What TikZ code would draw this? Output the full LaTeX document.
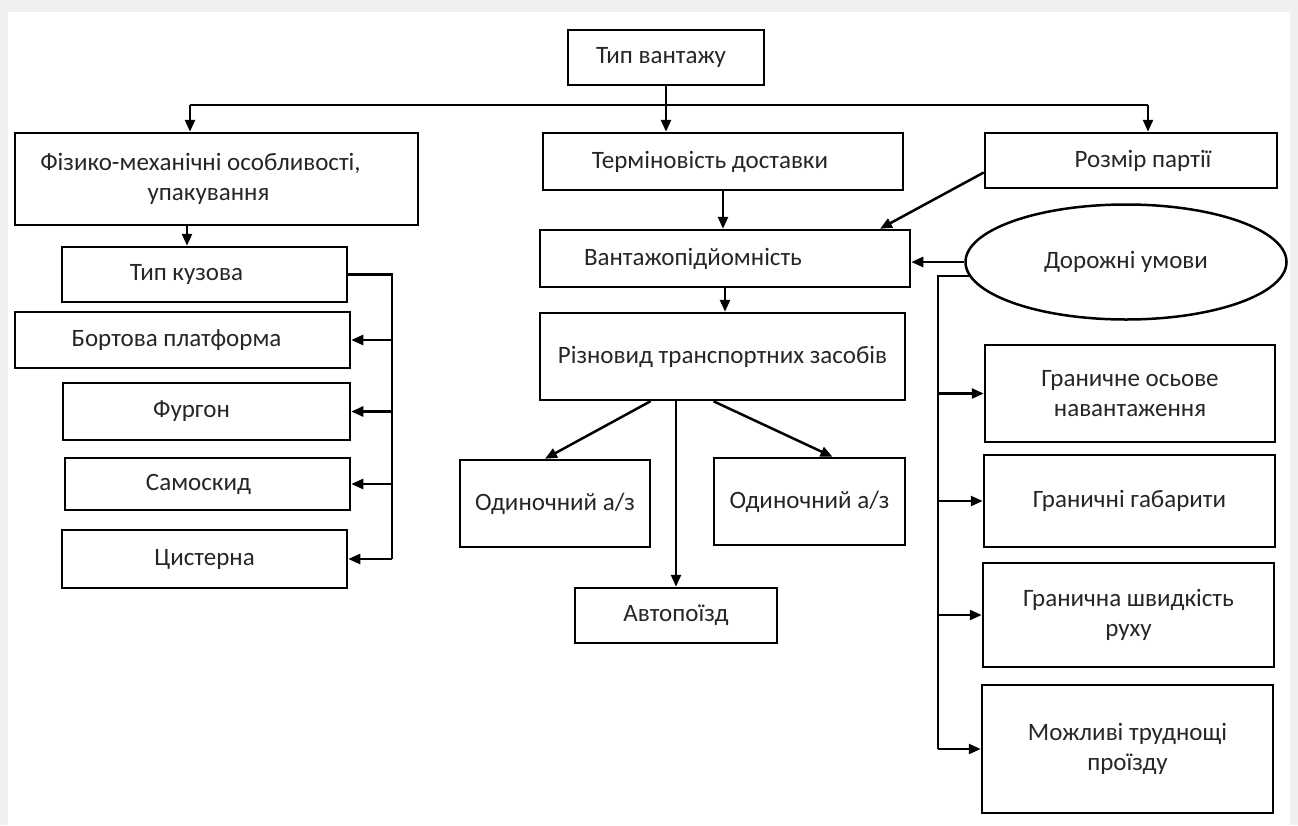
\documentclass[tikz,border=0pt]{standalone}
\usepackage{fontspec}
\setmainfont{Carlito}
\usetikzlibrary{arrows.meta,shapes.geometric,calc}
\begin{document}
\begin{tikzpicture}[x=1pt,y=-1pt,
  box/.style={draw, line width=2.5pt, inner sep=0pt, text=black!85, font=\fontsize{25}{30}\selectfont, align=center},
  ln/.style={line width=2.5pt},
  arr/.style={line width=2.5pt, -{Triangle[length=12pt,width=10pt]}},
]
\fill[gray!12] (0,0) rectangle (1298,825);
\fill[white] (8,12) rectangle (1290,825);
\useasboundingbox (0,0) rectangle (1298,825);

\node[box, minimum width=196pt, minimum height=55pt] (tip) at (666,57.5) {Тип вантажу\hspace*{10pt}};
\node[box, minimum width=403pt, minimum height=92pt] (phys) at (216.5,179) {Фізико-механічні особливості,\hspace*{32pt}\\упакування\hspace*{16pt}};
\node[box, minimum width=285pt, minimum height=55pt] (kuz) at (204.5,274.5) {Тип кузова\hspace*{36pt}};
\node[box, minimum width=335pt, minimum height=56pt] (bort) at (182.5,340) {Бортова платформа\hspace*{12pt}};
\node[box, minimum width=287pt, minimum height=57pt] (furg) at (206.5,411.5) {Фургон\hspace*{30pt}};
\node[box, minimum width=285pt, minimum height=52pt] (samo) at (207.5,484) {Самоскид\hspace*{18pt}};
\node[box, minimum width=285pt, minimum height=58pt] (cist) at (204.5,559) {Цистерна};

\node[box, minimum width=360pt, minimum height=57pt] (term) at (723,161.5) {Терміновість доставки\hspace*{26pt}};
\node[box, minimum width=370pt, minimum height=57pt] (vant) at (725,258.5) {Вантажопідйомність\hspace*{64pt}};
\node[box, minimum width=365pt, minimum height=87pt] (riz) at (722.5,356.5) {Різновид транспортних засобів};
\node[box, minimum width=190pt, minimum height=87pt] (od1) at (555,503.5) {Одиночний а/з};
\node[box, minimum width=191pt, minimum height=87pt] (od2) at (809.5,501.5) {Одиночний а/з};
\node[box, minimum width=202pt, minimum height=55pt] (avto) at (676,615.5) {Автопоїзд};

\node[box, minimum width=292pt, minimum height=55pt] (size) at (1131,160.5) {\hspace*{24pt}Розмір партії};
\node[box, ellipse, inner sep=0pt, minimum width=321pt, minimum height=115pt] (road) at (1126,262) {Дорожні умови};
\node[box, minimum width=290pt, minimum height=97pt] (g1) at (1130,393.5) {Граничне осьове\\навантаження};
\node[box, minimum width=291pt, minimum height=92pt] (g2) at (1129.5,501) {Граничні габарити};
\node[box, minimum width=291pt, minimum height=104pt] (g3) at (1128.5,615) {Гранична швидкість\\руху};
\node[box, minimum width=291pt, minimum height=128pt] (g4) at (1127.5,749) {Можливі труднощі\\проїзду};

% top bus
\coordinate (busL) at (190,105);
\coordinate (busR) at (1148,105);
\draw[ln] (busL) -- (busR);
\draw[arr] (busL) -- (busL |- phys.north);
\draw[arr] (tip.south) -- (tip.south |- term.north);
\draw[arr] (busR) -- (busR |- size.north);

% left column
\coordinate (pk) at (187,0);
\draw[arr] (pk |- phys.south) -- (pk |- kuz.north);
\coordinate (kb) at (392,0);
\draw[ln] (kuz.east) -- (kuz.east -| kb) -- (cist.east -| kb);
\draw[arr] (cist.east -| kb) -- (cist.east);
\draw[arr] (samo.east -| kb) -- (samo.east);
\draw[arr] (furg.east -| kb) -- (furg.east);
\draw[arr] (bort.east -| kb) -- (bort.east);

% middle column
\draw[arr] (term.south) -- (term.south |- vant.north);
\draw[arr] ($(size.west)+(0,12)$) -- ($(vant.north)+(155,0)$);
\draw[arr] (road.west) -- (road.west -| vant.east);
\draw[arr] (vant.south) -- (vant.south |- riz.north);
\draw[arr] ($(riz.south)+(-72,0)$) -- ($(od1.north)+(-10,0)$);
\draw[arr] (avto.north |- riz.south) -- (avto.north);
\draw[arr] ($(riz.south)+(-9,0)$) -- ($(od2.north)+(23,0)$);

% right column
\coordinate (rb) at (938,0);
\draw[ln] (road.185) -- (road.185 -| rb) -- (g4.west -| rb);
\draw[arr] (g1.west -| rb) -- (g1.west);
\draw[arr] (g2.west -| rb) -- (g2.west);
\draw[arr] (g3.west -| rb) -- (g3.west);
\draw[arr] (g4.west -| rb) -- (g4.west);
\end{tikzpicture}
\end{document}
